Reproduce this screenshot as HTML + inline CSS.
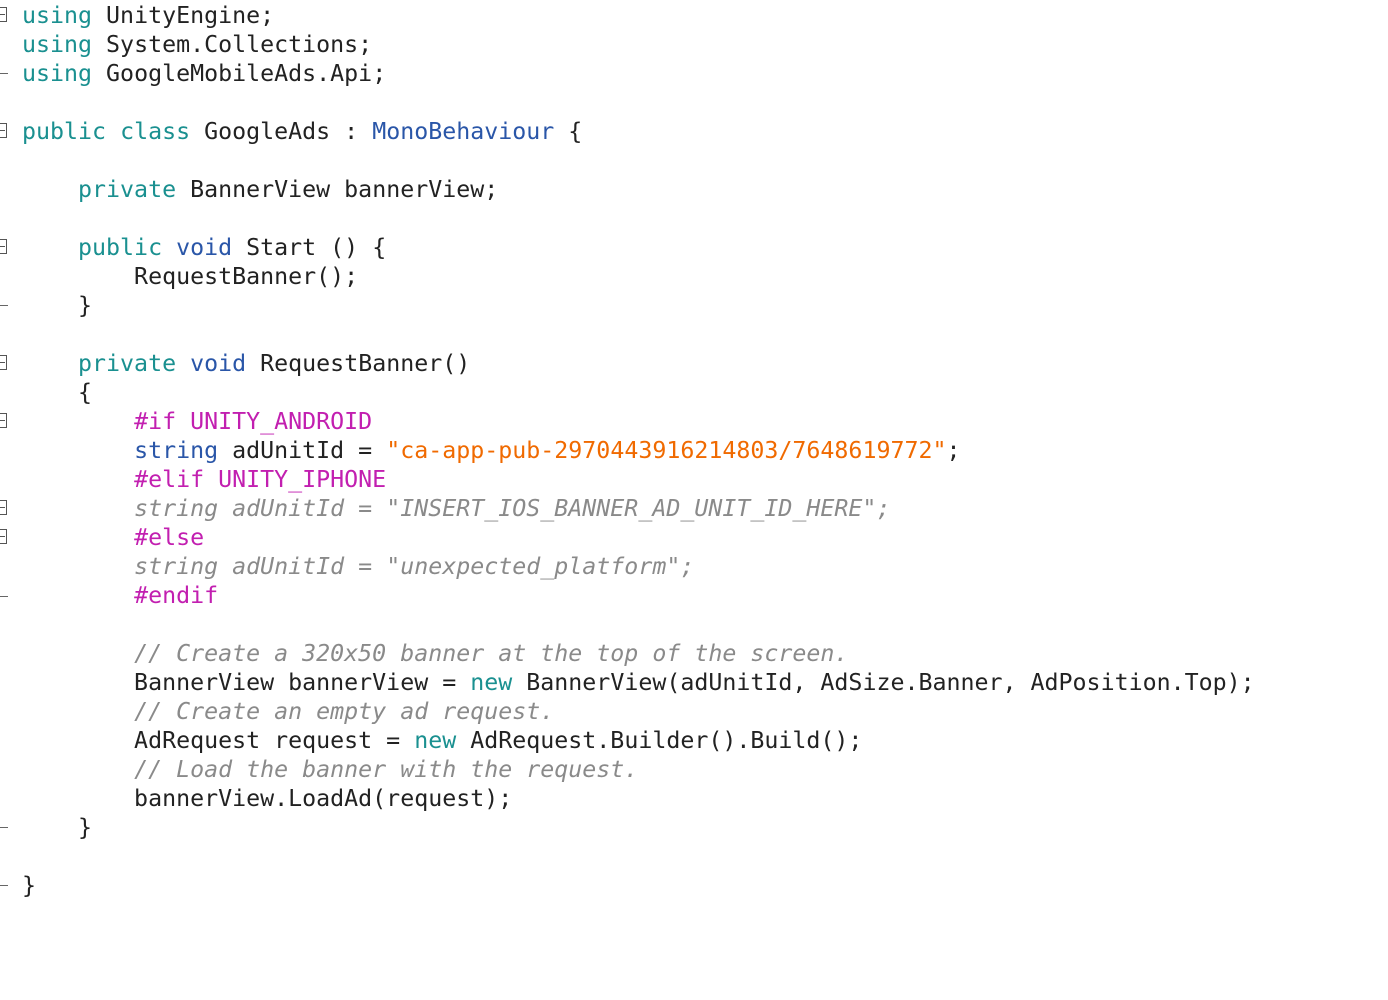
<!DOCTYPE html>
<html><head><meta charset="utf-8"><style>
html,body{margin:0;padding:0;background:#fff;width:1388px;height:1000px;overflow:hidden}
pre{position:absolute;left:22px;top:1px;margin:0;font-family:"DejaVu Sans Mono","Liberation Mono",monospace;font-size:23.27px;line-height:29px;color:#222}
.k{color:#1a9090}.b{color:#2a56a8}.p{color:#c21fb0}.s{color:#f06a00}.c{color:#8a8a8a;font-style:italic}
.f{position:absolute;left:0;width:7px;height:15px;border:1px solid #555;border-left:none;box-sizing:border-box}
.f:after{content:"";position:absolute;left:0;top:6px;width:5px;height:1px;background:#555}
.d{position:absolute;left:0;width:8px;height:1px;background:#666}
</style></head><body>
<div class="f" style="top:7px"></div>
<div class="d" style="top:73px"></div>
<div class="f" style="top:123px"></div>
<div class="f" style="top:239px"></div>
<div class="d" style="top:305px"></div>
<div class="f" style="top:355px"></div>
<div class="f" style="top:413px"></div>
<div class="f" style="top:500px"></div>
<div class="f" style="top:529px"></div>
<div class="d" style="top:596px"></div>
<div class="d" style="top:827px"></div>
<div class="d" style="top:885px"></div>
<pre><span class="k">using</span> UnityEngine;
<span class="k">using</span> System.Collections;
<span class="k">using</span> GoogleMobileAds.Api;

<span class="k">public</span> <span class="k">class</span> GoogleAds : <span class="b">MonoBehaviour</span> {

    <span class="k">private</span> BannerView bannerView;

    <span class="k">public</span> <span class="b">void</span> Start () {
        RequestBanner();
    }

    <span class="k">private</span> <span class="b">void</span> RequestBanner()
    {
        <span class="p">#if UNITY_ANDROID</span>
        <span class="b">string</span> adUnitId = <span class="s">"ca-app-pub-2970443916214803/7648619772"</span>;
        <span class="p">#elif UNITY_IPHONE</span>
        <span class="c">string adUnitId = "INSERT_IOS_BANNER_AD_UNIT_ID_HERE";</span>
        <span class="p">#else</span>
        <span class="c">string adUnitId = "unexpected_platform";</span>
        <span class="p">#endif</span>

        <span class="c">// Create a 320x50 banner at the top of the screen.</span>
        BannerView bannerView = <span class="k">new</span> BannerView(adUnitId, AdSize.Banner, AdPosition.Top);
        <span class="c">// Create an empty ad request.</span>
        AdRequest request = <span class="k">new</span> AdRequest.Builder().Build();
        <span class="c">// Load the banner with the request.</span>
        bannerView.LoadAd(request);
    }

}</pre>
</body></html>
